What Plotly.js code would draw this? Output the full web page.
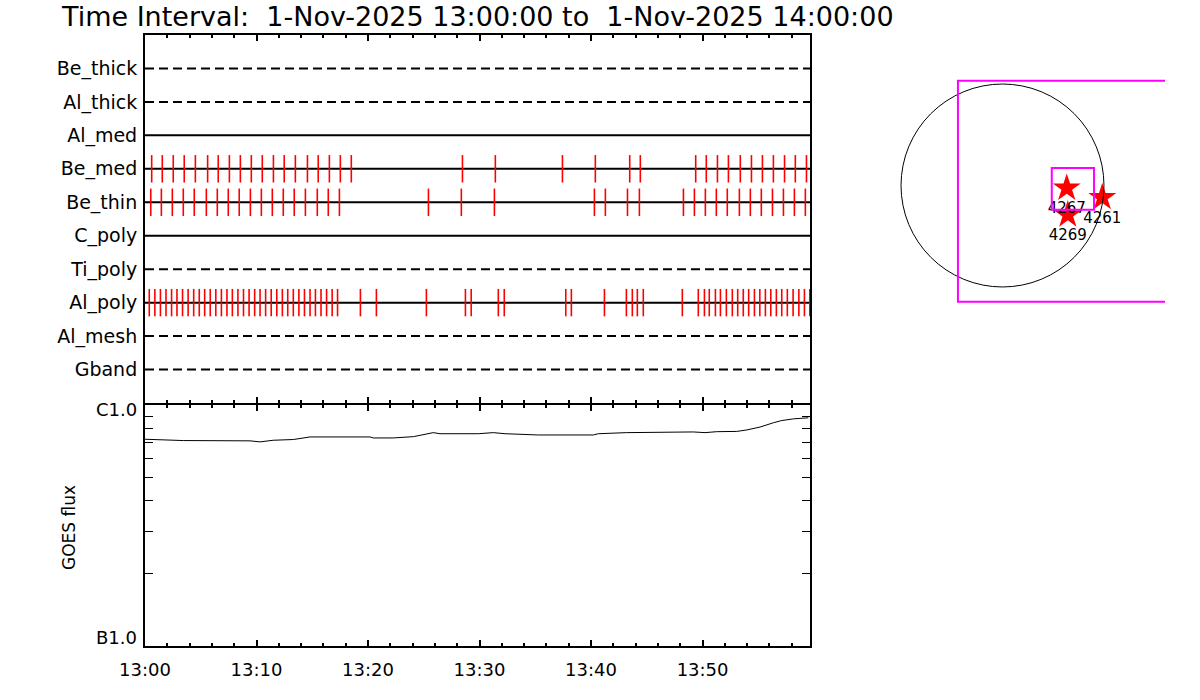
<!DOCTYPE html>
<html><head><meta charset="utf-8">
<script src="https://cdn.plot.ly/plotly-3.0.1.min.js"></script>
<style>html,body{margin:0;padding:0;background:#fff}#chart{width:1200px;height:700px}</style>
</head><body><div id="chart"></div>
<script>
const DAY = '2025-11-01 ';
const rangeStart = '13:00:00';
const rangeEnd = '13:59:38';

// channels, bottom row first
const channels = ['Gband','Al_mesh','Al_poly','Ti_poly','C_poly','Be_thin','Be_med','Al_med','Al_thick','Be_thick'];
const channelInUse = [false,false,true,false,true,true,true,true,false,false];

// exposure event times (mm:ss after 13:00)
const beMedTimes = ['00:36','01:33','02:32','03:31','04:31','05:37','06:34','07:34','08:33','09:32','10:31','11:31','12:29','13:29','14:34','15:32','16:32','17:31','18:30','28:28','31:25','37:26','40:23','43:28','44:25','49:23','50:20','51:20','52:19','53:23','54:23','55:22','56:21','57:21','58:19','59:19'];
const beThinTimes = ['00:31','01:28','02:27','03:26','04:25','05:30','06:29','07:28','08:27','09:27','10:26','11:25','12:24','13:23','14:23','15:27','16:26','17:26','25:25','28:22','31:20','40:18','41:17','43:16','44:20','48:17','49:16','50:15','51:14','52:13','53:18','54:17','55:16','56:16','57:15','58:14','59:13'];
const alPolyTimes = ['00:23','00:53','01:23','01:53','02:23','02:52','03:22','03:52','04:22','04:52','05:21','05:51','06:21','06:51','07:21','07:50','08:20','08:50','09:20','09:50','10:19','10:49','11:19','11:49','12:19','12:48','13:18','13:48','14:18','14:48','15:17','15:47','16:17','16:47','17:16','19:19','20:45','25:14','28:44','29:15','31:41','32:13','37:44','38:14','41:12','43:10','43:42','44:09','44:41','48:11','49:37','50:10','50:36','51:09','51:36','52:08','52:40','53:09','53:39','54:08','54:39','55:08','55:38','56:07','56:37','57:06','57:36','58:07','58:38','59:08','59:37'];
const eventChannels = ['Be_med','Be_thin','Al_poly'];
const eventTimes = [beMedTimes, beThinTimes, alPolyTimes];

// GOES flux (W/m^2)
const goesTimes = ['00:00','01:21','03:26','09:25','10:19','11:30','13:18','14:48','20:11','20:28','22:16','24:04','25:51','26:27','29:53','31:14','32:17','35:16','40:12','40:39','43:12','49:10','50:13','51:16','53:04','53:58','55:09','56:21','57:06','58:09','59:02','59:29'];
const goesFlux = [7.21e-7,7.17e-7,7.12e-7,7.10e-7,7.03e-7,7.14e-7,7.19e-7,7.37e-7,7.37e-7,7.30e-7,7.30e-7,7.39e-7,7.68e-7,7.60e-7,7.60e-7,7.68e-7,7.60e-7,7.51e-7,7.51e-7,7.60e-7,7.68e-7,7.73e-7,7.68e-7,7.75e-7,7.77e-7,7.88e-7,8.10e-7,8.44e-7,8.62e-7,8.76e-7,8.85e-7,8.85e-7];
const goesTickVals = [2e-7,3e-7,4e-7,5e-7,6e-7,7e-7,8e-7,9e-7];

// solar map (arcsec)
const regionIds = ['4267','4261','4269'];
const regionX = [613, 952, 623];
const regionY = [-25, -114, -279];
const sunRadius = 968;
const fovBox = {x0: -425, x1: 2600, y0: -1110, y1: 1000};
const zoomBox = {x0: 470, x1: 873, y0: -231, y1: 166};

const FONT = 'DejaVu Sans, sans-serif';
const t = s => DAY + '13:' + s;
const tStart = DAY + rangeStart, tEnd = DAY + rangeEnd;

const traces = [];
channels.forEach((c, i) => {
  traces.push({x: [tStart, tEnd], y: [i + 1, i + 1], mode: 'lines', xaxis: 'x', yaxis: 'y',
    line: {color: '#000', width: 2, dash: channelInUse[i] ? 'solid' : '9px,5px'}, hoverinfo: 'skip'});
});
eventChannels.forEach((c, k) => {
  const row = channels.indexOf(c) + 1;
  const xs = [], ys = [];
  eventTimes[k].forEach(s => { xs.push(t(s), t(s), null); ys.push(row - 0.41, row + 0.41, null); });
  traces.push({x: xs, y: ys, mode: 'lines', xaxis: 'x', yaxis: 'y', line: {color: '#ff0000', width: 1.6}, connectgaps: false, hoverinfo: 'skip'});
});
traces.push({x: goesTimes.map(t), y: goesFlux, mode: 'lines', xaxis: 'x2', yaxis: 'y2', line: {color: '#000', width: 1}});
// carriers for the top-side tick axes
traces.push({x: [tStart], y: [null], mode: 'lines', xaxis: 'x4', yaxis: 'y', hoverinfo: 'skip'});
traces.push({x: [tStart], y: [null], mode: 'lines', xaxis: 'x5', yaxis: 'y2', hoverinfo: 'skip'});
traces.push({x: regionX, y: regionY, text: regionIds, mode: 'markers+text', xaxis: 'x3', yaxis: 'y3',
  marker: {symbol: 'star', size: 21, color: '#ff0000', line: {width: 0}},
  textposition: 'bottom center', textfont: {family: FONT, size: 15, color: '#000'}});

const xCommon = {type: 'date', range: [tStart, tEnd], tick0: DAY + '13:00:00', dtick: 600000,
  ticks: 'inside', ticklen: 6, tickwidth: 2, tickcolor: '#000', showline: true, linewidth: 2, linecolor: '#000',
  mirror: true, showgrid: false, zeroline: false, fixedrange: true, showticklabels: false,
  minor: {tick0: DAY + '13:00:00', dtick: 120000, ticks: 'inside', ticklen: 3, tickwidth: 2, tickcolor: '#000', showgrid: false}};
const xDomain = [145/1200, 810/1200];

const layout = {
  width: 1200, height: 700, margin: {l: 0, r: 0, t: 0, b: 0},
  paper_bgcolor: '#fff', plot_bgcolor: '#fff', showlegend: false,
  font: {family: FONT, color: '#000'},
  xaxis: Object.assign({}, xCommon, {domain: xDomain, anchor: 'y'}),
  xaxis4: Object.assign({}, xCommon, {domain: xDomain, anchor: 'y', overlaying: 'x', side: 'top', showline: false, mirror: false}),
  yaxis: {domain: [1 - 403/700, 1 - 35/700], anchor: 'x', range: [0, 11], tickvals: channels.map((c, i) => i + 1), ticktext: channels,
    ticks: '', showline: true, mirror: true, linewidth: 2, linecolor: '#000', showgrid: false, zeroline: false,
    tickfont: {family: FONT, size: 19, color: '#000'}, ticklabelstandoff: 2, fixedrange: true},
  xaxis2: Object.assign({}, xCommon, {domain: xDomain, anchor: 'y2', showticklabels: true, tickformat: '%H:%M',
    tickfont: {family: FONT, size: 18, color: '#000'}, ticklabelstandoff: 6}),
  xaxis5: Object.assign({}, xCommon, {domain: xDomain, anchor: 'y2', overlaying: 'x2', side: 'top', showline: false, mirror: false}),
  yaxis2: {domain: [1 - 646/700, 1 - 405/700], anchor: 'x2', type: 'log', range: [-7, -6], tickvals: goesTickVals,
    ticks: 'inside', ticklen: 8, tickwidth: 1, tickcolor: '#000', showticklabels: false, showline: true, mirror: 'ticks',
    linewidth: 2, linecolor: '#000', showgrid: false, zeroline: false, fixedrange: true},
  xaxis3: {domain: [840/1200, 1165/1200], anchor: 'y3', range: [-1550, 1550], visible: false, fixedrange: true},
  yaxis3: {domain: [1 - 348/700, 1 - 23/700], anchor: 'x3', range: [-1550, 1550], visible: false, fixedrange: true},
  shapes: [
    {type: 'circle', xref: 'x3', yref: 'y3', x0: -sunRadius, x1: sunRadius, y0: -sunRadius, y1: sunRadius, line: {color: '#000', width: 1}},
    {type: 'rect', xref: 'x3', yref: 'y3', x0: fovBox.x0, x1: fovBox.x1, y0: fovBox.y0, y1: fovBox.y1, line: {color: '#ff00ff', width: 2}},
    {type: 'rect', xref: 'x3', yref: 'y3', x0: zoomBox.x0, x1: zoomBox.x1, y0: zoomBox.y0, y1: zoomBox.y1, line: {color: '#ff00ff', width: 2}}
  ],
  annotations: [
    {text: 'Time Interval:\u00a0\u00a01-Nov-2025 13:00:00 to\u00a0\u00a01-Nov-2025 14:00:00', xref: 'paper', yref: 'paper',
      x: 59/1200, y: 1 - 16/700, xanchor: 'left', yanchor: 'middle', showarrow: false, font: {family: FONT, size: 27, color: '#000'}},
    {text: 'C1.0', xref: 'paper', yref: 'paper', x: 139/1200, y: 1 - 409/700, xanchor: 'right', yanchor: 'middle', showarrow: false, font: {family: FONT, size: 18}},
    {text: 'B1.0', xref: 'paper', yref: 'paper', x: 139/1200, y: 1 - 637/700, xanchor: 'right', yanchor: 'middle', showarrow: false, font: {family: FONT, size: 18}},
    {text: 'GOES flux', xref: 'paper', yref: 'paper', x: 69/1200, y: 1 - 528/700, xanchor: 'center', yanchor: 'middle', textangle: -90, showarrow: false, font: {family: FONT, size: 17}}
  ]
};
Plotly.newPlot('chart', traces, layout, {displayModeBar: false, staticPlot: true});
</script></body></html>
